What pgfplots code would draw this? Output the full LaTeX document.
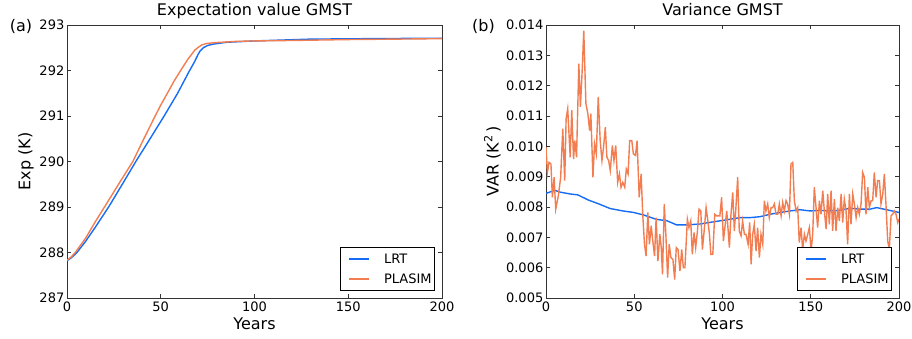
\documentclass[border=0pt]{standalone}
\usepackage{fontspec}
\setmainfont{DejaVu Sans}
\usepackage{pgfplots}
\usepackage{pgfplotstable}
\pgfplotsset{compat=1.18}
\definecolor{lrt}{RGB}{22,108,245}
\definecolor{plasim}{RGB}{242,125,80}

\pgfplotstableread{
year val
0 287.82
2.5 287.89
5.3 288.00
10 288.25
15 288.55
22.2 289.00
29.5 289.50
36.7 290.00
44.3 290.50
51.8 291.00
59 291.50
65 291.97
68 292.19
70 292.36
71 292.43
72.7 292.50
75 292.55
78 292.58
85 292.62
100 292.65
130 292.69
160 292.70
200 292.71
}\expLRT

\pgfplotstableread{
year val
0 287.83
2.2 287.90
4.4 288.00
10 288.32
15 288.67
20 289.00
27.5 289.50
35.1 290.00
41 290.50
47 291.00
50 291.24
53.8 291.52
57 291.76
60.6 292.00
64.5 292.25
68.2 292.45
70 292.51
71.8 292.56
74 292.59
78 292.61
90 292.64
100 292.65
120 292.66
150 292.68
175 292.69
200 292.70
}\expPLASIM

\pgfplotstableread{
year val
0 0.00845
5.1 0.00855
8 0.00849
13.7 0.00843
18 0.00840
24 0.00823
30 0.00810
36.3 0.00795
43.6 0.00787
49.7 0.00782
55.1 0.00774
62.7 0.00759
68.4 0.00755
74 0.00741
80 0.00741
87.2 0.00744
94.8 0.00751
102.4 0.00758
109.9 0.00765
115.6 0.00765
121.2 0.00768
126.9 0.00776
132.6 0.00782
138.2 0.00787
143.9 0.00791
149.6 0.00787
155.3 0.00789
160.9 0.00787
166.6 0.00789
172.3 0.00796
177.9 0.00793
183.6 0.00793
187.4 0.00798
193 0.00791
200 0.00782
}\varLRT

\pgfplotstableread{
year val
0 0.00997
0.8 0.00914
1.7 0.00947
2.8 0.00942
3.6 0.00832
4.6 0.00898
5.5 0.00793
7.0 0.00837
8.3 0.00898
9.5 0.01058
10.6 0.00887
11.4 0.01091
12.3 0.01124
13.7 0.00964
14.6 0.01119
15.6 0.00958
16.3 0.01019
17.3 0.00964
18.6 0.01273
19.5 0.01130
20.5 0.01251
21.4 0.01381
22.6 0.01141
23.7 0.01108
24.7 0.01052
25.4 0.01108
26.6 0.00898
27.5 0.01008
28.5 0.00975
29.6 0.01163
30.7 0.01019
31.7 0.00953
32.6 0.00997
33.6 0.01063
34.5 0.00964
35.5 0.00953
36.4 0.00920
37.6 0.01003
38.5 0.00953
39.5 0.01003
40.6 0.00881
41.6 0.00909
42.5 0.00865
43.5 0.00881
44.6 0.00865
45.5 0.00925
46.5 0.00909
47.4 0.01019
48.6 0.01019
49.5 0.00975
50.7 0.00970
51.6 0.01019
52.8 0.00832
53.9 0.00909
54.8 0.00776
55.8 0.00677
56.7 0.00638
57.7 0.00782
58.6 0.00677
59.6 0.00738
60.5 0.00688
61.5 0.00638
62.4 0.00765
63.4 0.00622
64.5 0.00710
65.3 0.00666
66.0 0.00578
67.0 0.00810
67.9 0.00710
68.9 0.00567
69.8 0.00677
70.8 0.00633
71.9 0.00627
72.9 0.00561
73.8 0.00666
74.8 0.00660
75.9 0.00589
76.9 0.00660
77.8 0.00600
78.7 0.00600
80.1 0.00760
81.0 0.00732
82.0 0.00754
82.9 0.00644
83.9 0.00716
84.8 0.00666
85.8 0.00721
86.7 0.00793
87.7 0.00787
88.6 0.00660
89.6 0.00721
90.7 0.00798
91.7 0.00754
92.6 0.00710
93.4 0.00644
94.5 0.00644
95.6 0.00776
96.6 0.00771
98.5 0.00771
99.5 0.00832
100.5 0.00688
102.4 0.00787
103.9 0.00666
104.8 0.00776
105.8 0.00848
106.7 0.00721
107.6 0.00798
108.6 0.00898
109.5 0.00721
110.5 0.00705
111.4 0.00754
112.4 0.00710
113.3 0.00710
114.5 0.00677
115.4 0.00749
116.2 0.00611
117.1 0.00710
118.0 0.00743
119.0 0.00655
119.9 0.00732
120.9 0.00633
121.8 0.00710
122.8 0.00677
123.7 0.00821
124.6 0.00787
125.6 0.00810
126.5 0.00765
127.5 0.00798
128.4 0.00798
129.4 0.00810
130.3 0.00776
131.3 0.00776
132.2 0.00810
133.2 0.00771
134.1 0.00815
135.0 0.00787
136.0 0.00821
136.9 0.00810
137.9 0.00776
138.8 0.00942
139.8 0.00947
140.7 0.00821
141.7 0.00787
142.6 0.00798
143.5 0.00683
144.5 0.00732
145.4 0.00660
146.4 0.00710
147.3 0.00688
148.3 0.00710
149.2 0.00732
150.2 0.00655
151.1 0.00710
152.0 0.00865
153.0 0.00798
153.9 0.00732
154.9 0.00821
155.8 0.00776
156.8 0.00854
157.7 0.00787
158.7 0.00727
159.6 0.00843
160.5 0.00743
161.5 0.00854
162.4 0.00721
163.4 0.00826
164.3 0.00721
165.3 0.00798
166.2 0.00754
167.2 0.00843
168.1 0.00749
169.0 0.00826
170.0 0.00787
170.9 0.00677
171.9 0.00843
172.8 0.00743
173.8 0.00843
174.7 0.00810
175.7 0.00765
176.6 0.00798
177.5 0.00776
178.5 0.00810
179.4 0.00914
180.4 0.00898
181.3 0.00776
182.3 0.00865
183.2 0.00798
184.2 0.00821
185.1 0.00821
186.0 0.00914
187.0 0.00832
187.9 0.00887
188.9 0.00887
189.8 0.00810
190.8 0.00843
191.7 0.00909
192.7 0.00798
193.6 0.00688
194.5 0.00660
195.5 0.00771
196.4 0.00776
197.4 0.00787
198.3 0.00776
199.3 0.00749
200 0.00760
}\varPLASIM

\pgfplotsset{
  myax/.style={
    scale only axis, height=273pt,
    xmin=0, xmax=200, xtick={0,50,100,150,200},
    axis line style={black!80, line width=0.9pt},
    tick style={black!80, line width=0.8pt},
    major tick length=4pt,
    tick label style={font=\fontsize{13}{15}\selectfont},
    /pgf/number format/assume math mode=true,
    yticklabel style={inner xsep=2.5pt},
    xticklabel style={inner ysep=3.5pt},
    xlabel={Years},
    xlabel style={font=\fontsize{16}{19}\selectfont, at={(axis description cs:0.5,0)}, anchor=north, inner sep=0pt, yshift=-20pt},
    title style={font=\fontsize{16}{19}\selectfont, at={(axis description cs:0.5,1)}, anchor=base, inner sep=0pt, yshift=4pt},
    ylabel style={font=\fontsize{16}{19}\selectfont, anchor=center, inner sep=0pt},
    legend style={at={(axis description cs:1,0)}, anchor=south east, xshift=-7pt, yshift=7pt,
      draw=black, line width=0.8pt, fill=white, font=\fontsize{13}{15}\selectfont,
      inner xsep=3pt, inner ysep=7pt, row sep=10.5pt,
      nodes={inner sep=0pt, text height=9.5pt, text depth=0pt}},
    legend cell align=left,
    legend image code/.code={\draw[opacity=0, line width=0.1pt] (0pt,0pt) -- (41pt,0pt); \draw[##1, line width=1.4pt] (6pt,0pt) -- (26pt,0pt);},
  },
}

\begin{document}
\begin{tikzpicture}
\useasboundingbox (0,0) rectangle (912pt,338pt);
\begin{axis}[myax, at={(67pt,40pt)}, anchor=south west, width=375pt,
  ymin=287, ymax=293, ytick={287,288,289,290,291,292,293},
  title={Expectation value GMST},
  ylabel={Exp (K)},
  ylabel style={at={(axis description cs:-0.1093,0.5)}},
]
\addplot[lrt, line width=1.4pt] table[x=year,y=val] {\expLRT};
\addlegendentry{LRT}
\addplot[plasim, line width=1.4pt] table[x=year,y=val] {\expPLASIM};
\addlegendentry{PLASIM}
\end{axis}
\begin{axis}[myax, at={(546pt,40pt)}, anchor=south west, width=353pt,
  ymin=0.005, ymax=0.014,
  ytick={0.005,0.006,0.007,0.008,0.009,0.010,0.011,0.012,0.013,0.014},
  scaled y ticks=false,
  yticklabel style={/pgf/number format/.cd, fixed, fixed zerofill, precision=3},
  title={Variance GMST},
  ylabel={VAR (K\textsuperscript{2}\,)},
  ylabel style={at={(axis description cs:-0.1516,0.5)}},
]
\addplot[lrt, line width=1.4pt] table[x=year,y=val] {\varLRT};
\addlegendentry{LRT}
\addplot[plasim, line width=1.4pt] table[x=year,y=val] {\varPLASIM};
\addlegendentry{PLASIM}
\end{axis}
\node[font=\fontsize{16}{19}\selectfont] at (21pt,311.3pt) {(a)};
\node[font=\fontsize{16}{19}\selectfont] at (483.5pt,311.3pt) {(b)};
\end{tikzpicture}
\end{document}
